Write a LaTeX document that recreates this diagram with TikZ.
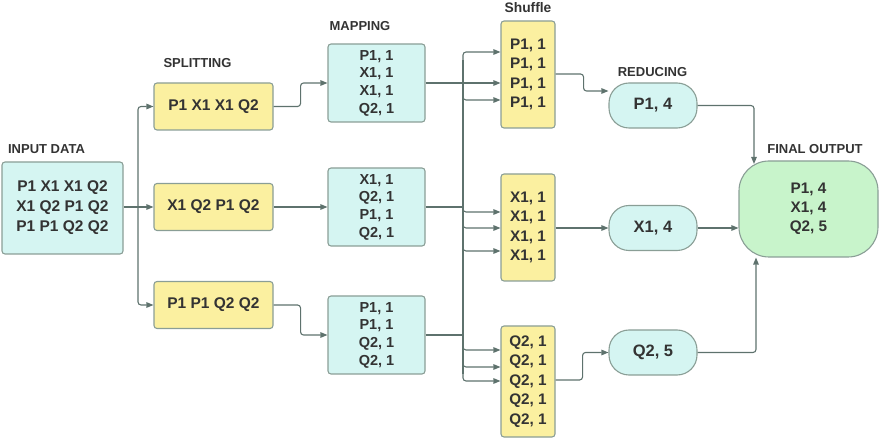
\documentclass[tikz,border=0pt]{standalone}
\usepackage{fontspec}
\setmainfont{Liberation Sans}
\usetikzlibrary{arrows.meta}
\definecolor{cyanf}{HTML}{D5F5F2}
\definecolor{yelf}{HTML}{FBF0A0}
\definecolor{grnf}{HTML}{C8F4CB}
\definecolor{bord}{HTML}{8A9E96}
\definecolor{linec}{HTML}{5E726D}
\definecolor{txt}{HTML}{333333}
\begin{document}
\begin{tikzpicture}[x=1pt,y=-1pt,
  box/.style={draw=bord, line width=1.1pt, rounded corners=3pt, align=center, text=txt, inner sep=0pt},
  cy/.style={box, fill=cyanf},
  ye/.style={box, fill=yelf},
  inbox/.style={cy, minimum width=121pt, minimum height=92pt, font=\bfseries\fontsize{15.5}{20}\selectfont},
  splitbox/.style={ye, minimum width=119pt, minimum height=47pt, font=\bfseries\fontsize{15.5}{20}\selectfont},
  mapbox/.style={cy, minimum width=97pt, minimum height=78pt, font=\bfseries\fontsize{14.5}{17.7}\selectfont},
  shufbox/.style={ye, minimum width=54pt, font=\bfseries\fontsize{15.3}{19.5}\selectfont},
  redbox/.style={cy, rounded corners=20pt, minimum width=88pt, minimum height=45pt, font=\bfseries\fontsize{16.5}{20}\selectfont},
  finbox/.style={box, fill=grnf, rounded corners=30pt, minimum width=139pt, minimum height=96pt, font=\bfseries\fontsize{15.3}{19}\selectfont},
  conn/.style={draw=linec, line width=1.1pt, rounded corners=3pt},
  arr/.style={conn, -{Triangle[length=7pt,width=5.5pt]}},
  lbl/.style={font=\bfseries\fontsize{13}{15}\selectfont, text=txt, inner sep=0pt}
]
\useasboundingbox (0,0) rectangle (884,438);

% labels
\node[lbl] (lin) at (46.5,149) {INPUT DATA};
\node[lbl] (lsp) at (197.5,63) {SPLITTING};
\node[lbl] (lmp) at (360,26) {MAPPING};
\node[lbl, font=\bfseries\fontsize{13.8}{15}\selectfont] (lsh) at (528,8) {Shuffle};
\node[lbl] (lrd) at (652.5,72) {REDUCING};
\node[lbl] (lfo) at (815,149) {FINAL OUTPUT};

% input
\node[inbox] (in) at (62.5,208) {P1 X1 X1 Q2\\X1 Q2 P1 Q2\\P1 P1 Q2 Q2};

% splitting
\node[splitbox] (s1) at (213.5,106.5) {P1 X1 X1 Q2};
\node[splitbox] (s2) at (213.5,207) {X1 Q2 P1 Q2};
\node[splitbox] (s3) at (213.5,305) {P1 P1 Q2 Q2};

% mapping
\node[mapbox] (m1) at (376.5,83) {P1, 1\\X1, 1\\X1, 1\\Q2, 1};
\node[mapbox] (m2) at (376.5,207) {X1, 1\\Q2, 1\\P1, 1\\Q2, 1};
\node[mapbox] (m3) at (376.5,335) {P1, 1\\P1, 1\\Q2, 1\\Q2, 1};

% shuffle
\node[shufbox, minimum height=107pt] (sh1) at (528,74.5) {P1, 1\\P1, 1\\P1, 1\\P1, 1};
\node[shufbox, minimum height=107pt] (sh2) at (528,227.5) {X1, 1\\X1, 1\\X1, 1\\X1, 1};
\node[shufbox, minimum height=111pt] (sh3) at (528,381.5) {Q2, 1\\Q2, 1\\Q2, 1\\Q2, 1\\Q2, 1};

% reducing
\node[redbox] (r1) at (653,105.5) {P1, 4};
\node[redbox] (r2) at (653,228) {X1, 4};
\node[redbox] (r3) at (653,352.5) {Q2, 5};

% final
\node[finbox] (fin) at (808.5,209) {P1, 4\\X1, 4\\Q2, 5};

% input -> splitting
\coordinate (sp) at (138,207);
\draw[conn] (in.east |- sp) -- (sp);
\draw[arr] (sp) |- (s1.west);
\draw[arr] (sp) -- (s2.west);
\draw[arr] (sp) |- (s3.west);

% splitting -> mapping
\draw[arr] (s1.east) -- ++(27,0) |- (m1.west);
\draw[arr] (s2.east) -- (m2.west);
\draw[arr] (s3.east) -- ++(27,0) |- (m3.west);

% mapping -> bus
\coordinate (bt) at (463,60);
\coordinate (bb) at (463,374);
\draw[conn] (bt) -- (bb);
\draw[conn] (m1.east) -- (m1.east -| bt);
\draw[conn] (m2.east) -- (m2.east -| bt);
\draw[conn] (m3.east) -- (m3.east -| bt);

% bus -> shuffle
\draw[arr] (bt) |- (sh1.west |- 0,52);
\draw[arr] (bt |- 0,83) -- (sh1.west |- 0,83);
\draw[arr] (bt |- 0,94) |- (sh1.west |- 0,100);
\draw[arr] (bt |- 0,206) |- (sh2.west |- 0,212);
\draw[arr] (bt |- 0,222) |- (sh2.west |- 0,228);
\draw[arr] (bt |- 0,245) |- (sh2.west |- 0,251);
\draw[arr] (bt |- 0,344) |- (sh3.west |- 0,350);
\draw[arr] (bt |- 0,361) |- (sh3.west |- 0,367);
\draw[arr] (bb) |- (sh3.west |- 0,381);

% shuffle -> reducing
\draw[arr] (sh1.east |- 0,74) -- ++(28,0) |- (r1.west |- 0,91);
\draw[arr] (sh2.east |- r2) -- (r2.west);
\draw[arr] (sh3.east |- 0,380) -- ++(27,0) |- (r3.west);

% reducing -> final
\draw[arr] (r1.east) -| (754,164);
\draw[arr] (r2.east) -- (fin.west |- r2);
\draw[arr] (r3.east) -| (756,0 |- fin.south);
\end{tikzpicture}
\end{document}
